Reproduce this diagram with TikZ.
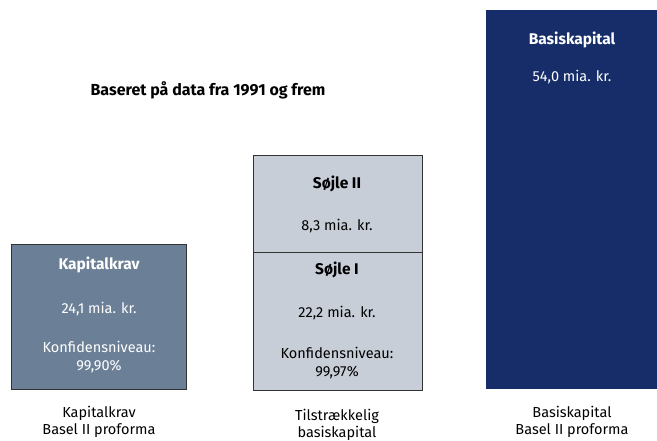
\documentclass[tikz,border=0pt]{standalone}
\usepackage{fontspec}
\setmainfont{Fira Sans}
\definecolor{kravgray}{HTML}{6B8097}
\definecolor{soejlegray}{HTML}{C8CED8}
\definecolor{basisblue}{HTML}{172D69}
\begin{document}
\begin{tikzpicture}[x=1pt, y=-1pt]
    \tikzstyle{txt}=[inner sep=0pt, font=\fontsize{14.5}{17.5}\selectfont, align=center]
    \tikzstyle{hd}=[txt, font=\fontsize{15.5}{17.5}\selectfont\bfseries]
    \useasboundingbox (0,0) rectangle (657,441);
    \filldraw[fill=kravgray, draw=black!80, line width=0.8pt] (11.7,244) rectangle (186,389);
    \filldraw[fill=soejlegray, draw=black!80, line width=0.8pt] (253,155) rectangle (422,390);
    \draw[black!80, line width=0.8pt] (253,252) -- (422,252);
    \fill[basisblue] (486,10) rectangle (657,389);
    \node[hd, font=\fontsize{16}{18}\selectfont\bfseries] (title) at (208,90){Baseret på data fra 1991 og frem};
    % kapitalkrav
    \node[hd, white] (k1) at (99,265){Kapitalkrav};
    \node[txt, white] (k2) at (99,309){24,1 mia. kr.};
    \node[txt, white] (k3) at (99,357){Konfidensniveau:\\99,90\%};
    \node[txt] (k4) at (99,422){Kapitalkrav\\Basel II proforma};
    % tilstraekkelig basiskapital
    \node[hd] (s1) at (337,184){Søjle II};
    \node[txt] (s2) at (337,226){8,3 mia. kr.};
    \node[hd] (s3) at (337,270){Søjle I};
    \node[txt] (s4) at (337,313){22,2 mia. kr.};
    \node[txt] (s5) at (337,363){Konfidensniveau:\\99,97\%};
    \node[txt] (s6) at (337,425){Tilstrækkelig\\basiskapital};
    % basiskapital
    \node[hd, white] (b1) at (572,40){Basiskapital};
    \node[txt, white] (b2) at (572,77){54,0 mia. kr.};
    \node[txt] (b3) at (572,422){Basiskapital\\Basel II proforma};
  \end{tikzpicture}
\end{document}
